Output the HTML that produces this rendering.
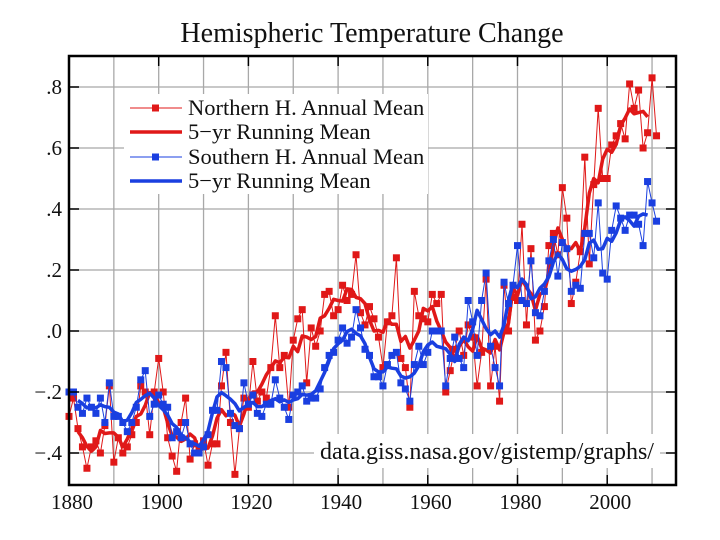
<!DOCTYPE html>
<html><head><meta charset="utf-8">
<style>
html,body{margin:0;padding:0;background:#fff;}
svg{display:block;font-family:"Liberation Serif",serif;}
</style></head>
<body>
<svg id="chart" width="720" height="540" viewBox="0 0 720 540">
<text x="372" y="42" font-size="28" text-anchor="middle" fill="#111">Hemispheric Temperature Change</text>
<g id="grid"></g>
<g id="series"></g>
<rect x="69" y="56" width="607" height="429" fill="none" stroke="#000" stroke-width="2.5"/>
<g id="axes"></g>
<g>
<rect x="124" y="94" width="304" height="100" fill="#fff"/>
<g>
<line x1="130" y1="108" x2="182" y2="108" stroke="#e01818" stroke-width="1"/><rect x="152" y="104.5" width="7" height="7" fill="#e01818"/>
<text x="188" y="115" font-size="22.5" fill="#111">Northern H. Annual Mean</text></g>
<g>
<line x1="130" y1="132" x2="182" y2="132" stroke="#e01818" stroke-width="3.5"/>
<text x="188" y="139" font-size="22.5" fill="#111">5−yr Running Mean</text></g>
<g>
<line x1="130" y1="157" x2="182" y2="157" stroke="#1a3fe0" stroke-width="1"/><rect x="152" y="153.5" width="7" height="7" fill="#1a3fe0"/>
<text x="188" y="164" font-size="22.5" fill="#111">Southern H. Annual Mean</text></g>
<g>
<line x1="130" y1="181" x2="182" y2="181" stroke="#1a3fe0" stroke-width="3.5"/>
<text x="188" y="188" font-size="22.5" fill="#111">5−yr Running Mean</text></g>
</g>
<rect x="314" y="434" width="346" height="34" fill="#fff"/>
<text x="320" y="459" font-size="24" fill="#111">data.giss.nasa.gov/gistemp/graphs/</text>
</svg>
<script>
const startYear = 1880;
const nhAnnual = [
-0.28,-0.22,-0.32,-0.38,-0.45,-0.38,-0.36,-0.40,-0.31,-0.18,
-0.43,-0.35,-0.40,-0.38,-0.34,-0.30,-0.18,-0.20,-0.34,-0.20,
-0.09,-0.20,-0.35,-0.41,-0.46,-0.30,-0.22,-0.42,-0.37,-0.38,
-0.36,-0.44,-0.37,-0.37,-0.18,-0.07,-0.30,-0.47,-0.32,-0.22,
-0.25,-0.10,-0.23,-0.20,-0.22,-0.12,0.05,-0.12,-0.08,-0.25,
-0.03,0.04,0.07,-0.17,0.01,-0.05,0.00,0.12,0.13,0.05,
0.07,0.15,0.10,0.12,0.25,0.06,0.02,0.08,0.04,-0.02,
-0.12,0.03,0.05,0.24,-0.09,-0.12,-0.25,0.13,0.05,0.04,
0.03,0.12,0.09,0.12,-0.20,-0.13,-0.06,0.00,-0.08,0.02,
-0.02,-0.18,-0.07,0.17,-0.18,-0.05,-0.23,0.15,0.00,0.11,
0.10,0.35,0.02,0.27,-0.03,0.00,0.08,0.28,0.32,0.25,
0.47,0.37,0.09,0.16,0.26,0.57,0.22,0.48,0.73,0.50,
0.50,0.61,0.64,0.68,0.63,0.81,0.73,0.79,0.60,0.65,
0.83,0.64];
const shAnnual = [
-0.20,-0.20,-0.25,-0.27,-0.22,-0.25,-0.27,-0.22,-0.30,-0.17,
-0.28,-0.28,-0.30,-0.33,-0.30,-0.25,-0.16,-0.13,-0.28,-0.24,
-0.21,-0.24,-0.25,-0.35,-0.33,-0.35,-0.30,-0.37,-0.40,-0.40,
-0.38,-0.34,-0.26,-0.26,-0.10,-0.12,-0.27,-0.31,-0.32,-0.17,
-0.24,-0.21,-0.27,-0.28,-0.24,-0.24,-0.16,-0.22,-0.25,-0.29,
-0.21,-0.20,-0.18,-0.23,-0.22,-0.22,-0.19,-0.12,-0.08,-0.07,
-0.03,0.01,-0.04,-0.02,0.07,0.01,-0.06,-0.08,-0.15,-0.15,
-0.18,-0.11,-0.08,-0.07,-0.17,-0.19,-0.23,-0.11,-0.05,-0.11,
-0.07,0.00,0.00,0.00,-0.18,-0.09,-0.02,-0.09,-0.12,0.10,
0.03,-0.08,0.10,0.19,-0.05,-0.12,-0.18,0.16,0.09,0.15,
0.28,0.10,0.09,0.23,0.06,0.05,0.13,0.23,0.30,0.18,
0.29,0.27,0.13,0.15,0.14,0.32,0.32,0.24,0.42,0.19,
0.17,0.33,0.41,0.37,0.33,0.38,0.38,0.35,0.28,0.49,
0.42,0.36];
const xTickYears = [1880,1900,1920,1940,1960,1980,2000];
const xGridYears = [1890,1900,1910,1920,1930,1940,1950,1960,1970,1980,1990,2000,2010];
const yTickValues = [0.8,0.6,0.4,0.2,0.0,-0.2,-0.4];
const yTickLabels = [".8",".6",".4",".2",".0","−.2","−.4"];

const NS = "http://www.w3.org/2000/svg";
function X(yr){ return 69 + (yr - 1880) * 4.485; }
function Y(v){ return 331 - v * 305; }
function mk(tag, attrs, parent){
  const e = document.createElementNS(NS, tag);
  for (const k in attrs) e.setAttribute(k, attrs[k]);
  parent.appendChild(e); return e;
}
const grid = document.getElementById('grid');
const axes = document.getElementById('axes');
const series = document.getElementById('series');

xGridYears.forEach(yr => {
  const l = mk('line', {x1:X(yr), x2:X(yr), y1:56, y2:485, stroke:'#a8a8a8', 'stroke-width':1.3}, grid);
  
  
});
yTickValues.forEach((v, i) => {
  const l = mk('line', {x1:69, x2:676, y1:Y(v), y2:Y(v), stroke:'#a8a8a8', 'stroke-width':1.3}, grid);
  
  
  mk('line', {x1:69, x2:79, y1:Y(v), y2:Y(v), stroke:'#000', 'stroke-width':1.5}, axes);
  mk('line', {x1:666, x2:676, y1:Y(v), y2:Y(v), stroke:'#000', 'stroke-width':1.5}, axes);
  const t = mk('text', {x:62, y:Y(v)+7, 'font-size':21, 'text-anchor':'end', fill:'#111'}, axes);
  t.textContent = yTickLabels[i];
  
  
});
xTickYears.forEach(yr => {
  mk('line', {x1:X(yr), x2:X(yr), y1:475, y2:485, stroke:'#000', 'stroke-width':1.5}, axes);
  mk('line', {x1:X(yr), x2:X(yr), y1:56, y2:66, stroke:'#000', 'stroke-width':1.5}, axes);
  const t = mk('text', {x:X(yr)+3, y:509, 'font-size':21, 'text-anchor':'middle', fill:'#111'}, axes);
  t.textContent = yr;
  
  
});

function running(arr){
  const out = [];
  for (let i = 2; i < arr.length - 2; i++) {
    let s = 0; for (let j = -2; j <= 2; j++) s += arr[i+j];
    out.push([startYear + i, s/5]);
  }
  return out;
}
function drawSeries(arr, color, name){
  const pts = arr.map((v, i) => X(startYear+i).toFixed(1) + ',' + Y(v).toFixed(1)).join(' ');
  const pl = mk('polyline', {points:pts, fill:'none', stroke:color, 'stroke-width':1}, series);
  
  
  arr.forEach((v, i) => {
    const r = mk('rect', {x:X(startYear+i)-3.5, y:Y(v)-3.5, width:7, height:7, fill:color}, series);
    
    
  });
}
function drawRunning(arr, color, name){
  const pts = running(arr).map(p => X(p[0]).toFixed(1) + ',' + Y(p[1]).toFixed(1)).join(' ');
  const pl = mk('polyline', {points:pts, fill:'none', stroke:color, 'stroke-width':3.5, 'stroke-linejoin':'round'}, series);
  
  
}
drawSeries(nhAnnual, '#e01818', 'nh');
drawRunning(nhAnnual, '#e01818', 'nh');
drawSeries(shAnnual, '#1a3fe0', 'sh');
drawRunning(shAnnual, '#1a3fe0', 'sh');
</script>
</body></html>
